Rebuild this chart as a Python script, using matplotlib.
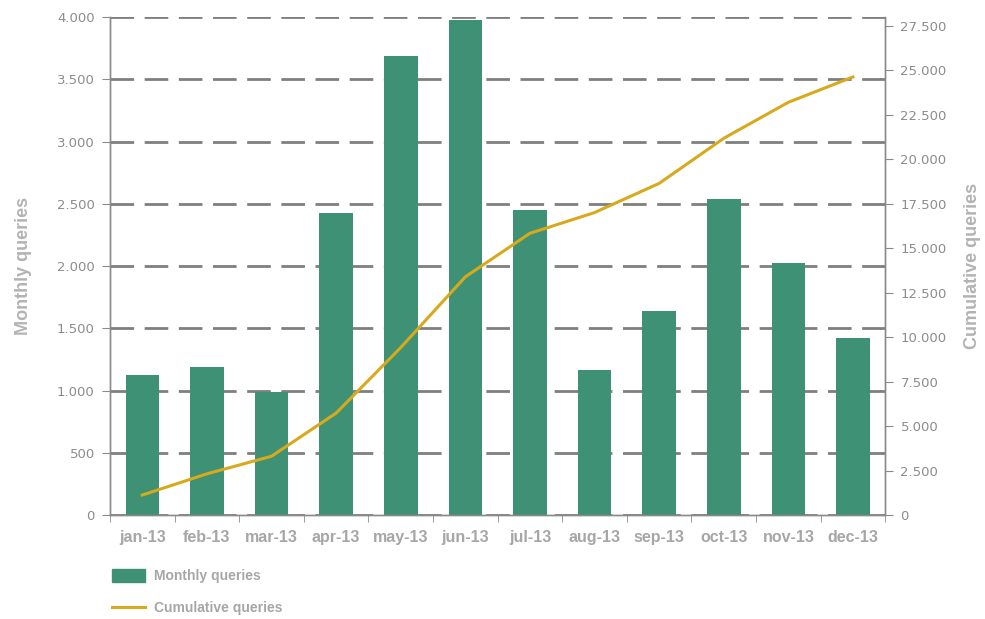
import matplotlib
matplotlib.use('Agg')
import matplotlib.pyplot as plt
from matplotlib.ticker import FuncFormatter, MultipleLocator, FixedLocator
from matplotlib.patches import Patch
from matplotlib.lines import Line2D

months = ['jan-13', 'feb-13', 'mar-13', 'apr-13', 'may-13', 'jun-13',
          'jul-13', 'aug-13', 'sep-13', 'oct-13', 'nov-13', 'dec-13']
monthly = [1125, 1190, 990, 2425, 3685, 3975, 2450, 1165, 1640, 2535, 2025, 1425]
cumulative = [1125, 2315, 3305, 5730, 9415, 13390, 15840, 17005, 18645, 21180, 23205, 24630]

BAR_COLOR = '#3f9176'
LINE_COLOR = '#d6aa1c'
TEXT_GRAY = '#a6a6a6'
TICK_GRAY = '#8c8c8c'
AXIS_GRAY = '#8a8a8a'


def dotted_thousands(v, pos):
    return '{:,.0f}'.format(v).replace(',', '.')


fig = plt.figure(figsize=(9.85, 6.19), dpi=100)
ax = fig.add_axes([0.1117, 0.168, 0.787, 0.8045])
ax2 = ax.twinx()

x = list(range(len(months)))
ax.bar(x, monthly, width=0.52, color=BAR_COLOR, zorder=3)
ax2.plot(x, cumulative, color=LINE_COLOR, lw=2.2, zorder=4)

ax.set_xlim(-0.5, len(months) - 0.5)
ax.set_ylim(0, 4000)
ax2.set_ylim(0, 28000)

ax.yaxis.set_major_locator(MultipleLocator(500))
ax2.yaxis.set_major_locator(MultipleLocator(2500))
ax.yaxis.set_major_formatter(FuncFormatter(dotted_thousands))
ax2.yaxis.set_major_formatter(FuncFormatter(dotted_thousands))

ax.grid(axis='y', color='#7f7f7f', lw=2, linestyle=(0, (8.5, 3.8)), zorder=1)
ax.set_axisbelow(True)

ax.set_xticks(x)
ax.set_xticklabels(months, fontsize=11.5, fontweight='bold', color=TEXT_GRAY,
                   family='Liberation Sans')
ax.xaxis.set_minor_locator(FixedLocator([i - 0.5 for i in range(len(months) + 1)]))
ax.tick_params(axis='x', which='major', length=0, pad=11)
ax.tick_params(axis='x', which='minor', length=5, color=AXIS_GRAY, direction='out')

ax.tick_params(axis='y', length=6, color=AXIS_GRAY, labelcolor=TICK_GRAY,
               labelsize=9.5, pad=5)
ax2.tick_params(axis='y', length=6, color=AXIS_GRAY, labelcolor=TICK_GRAY,
                labelsize=9.5, pad=5)

for a in (ax, ax2):
    a.spines['top'].set_visible(False)
    for s in ('left', 'right', 'bottom'):
        a.spines[s].set_color(AXIS_GRAY)
        a.spines[s].set_linewidth(1)

ax.set_ylabel('Monthly queries', fontsize=13, fontweight='bold', color='#b3b3b3',
              family='Liberation Sans', labelpad=18)
ax2.set_ylabel('Cumulative queries', fontsize=13, fontweight='bold', color='#b3b3b3',
               family='Liberation Sans', labelpad=12)

handles = [Patch(facecolor=BAR_COLOR, edgecolor=BAR_COLOR),
           Line2D([0], [0], color=LINE_COLOR, lw=2.2)]
fig.legend(handles, ['Monthly queries', 'Cumulative queries'],
           loc='lower left', bbox_to_anchor=(0.101, -0.014), frameon=False,
           handlelength=2.4, handleheight=1.0, handletextpad=0.6, labelspacing=1.3,
           prop={'family': 'Liberation Sans', 'weight': 'bold', 'size': 10},
           labelcolor=TEXT_GRAY)

fig.savefig('out.png', dpi=100)
